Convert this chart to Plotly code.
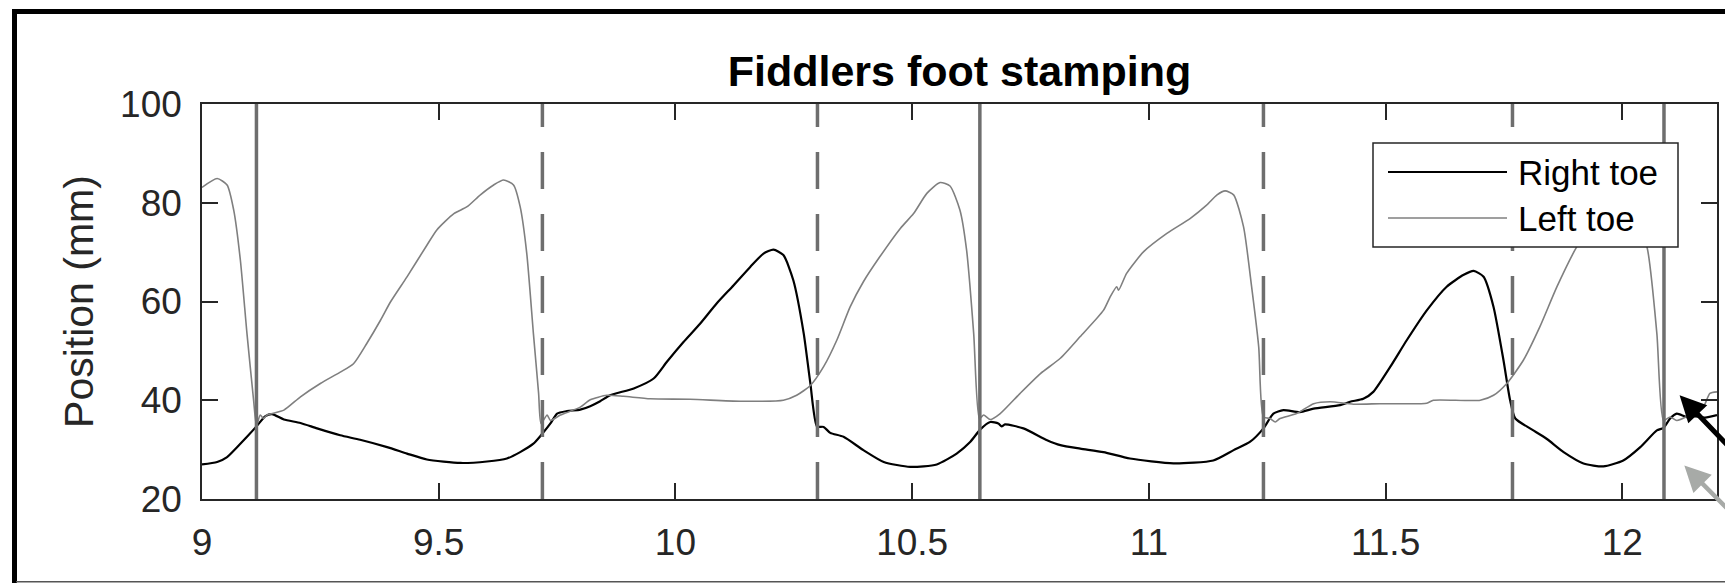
import plotly.graph_objects as go

# ---------------- data ----------------
right_x = [9.000, 9.032, 9.053, 9.074, 9.095, 9.115, 9.134, 9.148, 9.173, 9.208, 9.243, 9.292,
           9.334, 9.391, 9.433, 9.475, 9.546, 9.602, 9.644, 9.672, 9.700, 9.716, 9.736, 9.750,
           9.771, 9.799, 9.820, 9.841, 9.862, 9.912, 9.954, 9.982, 10.017, 10.052, 10.087, 10.123,
           10.158, 10.186, 10.207, 10.228, 10.249, 10.271, 10.285, 10.299, 10.313, 10.327, 10.355,
           10.397, 10.440, 10.496, 10.552, 10.594, 10.623, 10.644, 10.665, 10.682, 10.689, 10.696,
           10.735, 10.785, 10.813, 10.855, 10.904, 10.960, 11.052, 11.136, 11.179, 11.214, 11.242,
           11.263, 11.284, 11.319, 11.348, 11.404, 11.425, 11.453, 11.474, 11.510, 11.545, 11.587,
           11.629, 11.665, 11.686, 11.707, 11.728, 11.749, 11.763, 11.774, 11.805, 11.840, 11.876,
           11.918, 11.960, 12.002, 12.038, 12.073, 12.087, 12.101, 12.115, 12.136, 12.150, 12.175,
           12.200]
right_y = [27.0, 27.5, 28.5, 30.5, 32.6, 34.7, 36.8, 37.2, 36.1, 35.4, 34.3, 32.9,
           32.0, 30.5, 29.2, 28.0, 27.3, 27.6, 28.2, 29.5, 31.2, 32.9, 35.3, 37.3,
           37.8, 38.1, 38.8, 39.8, 41.0, 42.4, 44.4, 47.8, 51.8, 55.5, 59.6, 63.3,
           67.0, 69.7, 70.5, 69.4, 64.3, 53.5, 43.4, 34.7, 34.6, 33.4, 32.6,
           29.9, 27.5, 26.5, 27.0, 29.2, 31.6, 34.1, 35.6, 35.3, 34.7, 35.1,
           34.3, 31.9, 30.9, 30.2, 29.5, 28.2, 27.2, 27.8, 29.9, 31.6, 34.3,
           37.3, 38.0, 37.6, 38.3, 39.0, 39.7, 40.3, 41.7, 46.8, 52.2, 58.2,
           63.0, 65.4, 66.2, 65.0, 58.9, 48.1, 40.0, 36.3, 34.3, 32.2, 29.5,
           27.2, 26.6, 27.8, 30.5, 33.9, 34.4, 36.3, 37.3, 36.6, 36.8, 36.5,
           37.0]

left_x = [9.000, 9.032, 9.053, 9.067, 9.081, 9.095, 9.109, 9.115, 9.123, 9.130, 9.137, 9.173,
          9.208, 9.250, 9.292, 9.320, 9.348, 9.377, 9.398, 9.433, 9.475, 9.496, 9.532, 9.560,
          9.588, 9.616, 9.637, 9.658, 9.672, 9.686, 9.700, 9.711, 9.716, 9.729, 9.736, 9.757,
          9.799, 9.820, 9.855, 9.890, 9.947, 10.031, 10.137, 10.228, 10.256, 10.285, 10.313,
          10.341, 10.369, 10.397, 10.432, 10.475, 10.503, 10.531, 10.559, 10.580, 10.601, 10.615,
          10.630, 10.642, 10.651, 10.665, 10.686, 10.728, 10.771, 10.813, 10.855, 10.904, 10.918,
          10.932, 10.936, 10.953, 10.989, 11.038, 11.087, 11.122, 11.144, 11.161, 11.179, 11.200,
          11.217, 11.232, 11.242, 11.256, 11.267, 11.277, 11.312, 11.348, 11.383, 11.432, 11.488,
          11.524, 11.587, 11.601, 11.700, 11.728, 11.756, 11.791, 11.826, 11.862, 11.904, 11.950,
          11.990, 12.025, 12.052, 12.073, 12.087, 12.101, 12.115, 12.143, 12.171, 12.185, 12.200]
left_y = [83.1, 84.9, 83.6, 78.5, 68.4, 53.5, 40.0, 34.9, 37.0, 36.3, 37.0, 38.0,
          40.7, 43.4, 45.7, 47.4, 51.5, 56.2, 59.9, 65.0, 71.4, 74.5, 77.8, 79.2,
          81.6, 83.6, 84.6, 83.6, 79.2, 69.7, 53.5, 41.4, 35.3, 37.0, 35.9, 37.0,
          38.6, 40.1, 41.0, 40.8, 40.3, 40.2, 39.8, 40.0, 41.0, 43.0, 46.8,
          52.2, 58.9, 64.0, 69.1, 74.8, 77.8, 81.9, 84.1, 83.4, 78.5, 70.4,
          53.5, 36.3, 37.0, 36.1, 37.3, 41.4, 45.4, 48.5, 52.9, 58.2, 60.9,
          63.0, 62.3, 65.7, 70.1, 73.8, 76.8, 79.5, 81.6, 82.4, 81.6, 75.1,
          63.0, 50.8, 36.6, 36.3, 35.6, 36.3, 37.3, 39.3, 39.7, 39.2, 39.3,
          39.3, 39.4, 40.0, 40.0, 41.0, 43.4, 48.1, 54.9, 63.0, 71.1, 77.5,
          80.0, 77.0, 71.1, 53.5, 35.9, 36.6, 35.9, 37.0, 38.6, 41.4, 41.7]

series_names = ["Right toe", "Left toe"]
solid_events = [9.115, 10.643, 12.088]
dashed_events = [9.719, 10.300, 11.242, 11.768]
x_tickvals = [9, 9.5, 10, 10.5, 11, 11.5, 12]
x_ticktext = ["9", "9.5", "10", "10.5", "11", "11.5", "12"]
y_tickvals = [20, 40, 60, 80, 100]
arrow_black_tip = (12.121, 41.0)
arrow_gray_tip = (12.131, 26.8)

# ---------------- figure ----------------
W, H = 1733, 583
OFF = 8  # page body margin offset
# desired plot box on screen: x 202..1717, y 104..499
L, T = 202 - OFF, 104 - OFF
R = W - (1717 - OFF)
B = H - (499 - OFF)
PW, PH = W - L - R, H - T - B


def px(sx):
    return (sx - OFF - L) / PW


def py(sy):
    return (H - B - (sy - OFF)) / PH


FONT = "Liberation Sans, Helvetica, Arial, sans-serif"
AX = "#262626"
EVT = "#6e6e6e"

fig = go.Figure()
fig.add_trace(go.Scatter(x=right_x, y=right_y, mode="lines", name=series_names[0],
                         line=dict(color="#000000", width=2.2, shape="spline", smoothing=0.6),
                         showlegend=False))
fig.add_trace(go.Scatter(x=left_x, y=left_y, mode="lines", name=series_names[1],
                         line=dict(color="#7f7f7f", width=1.6, shape="spline", smoothing=0.6),
                         showlegend=False))

shapes = []
for xv in solid_events:
    shapes.append(dict(type="line", xref="x", yref="paper", x0=xv, x1=xv, y0=0, y1=1,
                       line=dict(color=EVT, width=3.5)))
for xv in dashed_events:
    shapes.append(dict(type="line", xref="x", yref="paper", x0=xv, x1=xv, y0=0, y1=1,
                       line=dict(color=EVT, width=3.5, dash="37px,25px")))

# legend box (manual)
lx0, lx1, ly0, ly1 = 1373, 1678, 143, 247
shapes.append(dict(type="rect", xref="paper", yref="paper",
                   x0=px(lx0), x1=px(lx1), y0=py(ly1), y1=py(ly0),
                   fillcolor="white", line=dict(color=AX, width=1.5)))
rows = [172, 218]
colors = ["#000000", "#7f7f7f"]
widths = [2.0, 1.6]
for r, c, w in zip(rows, colors, widths):
    shapes.append(dict(type="line", xref="paper", yref="paper",
                       x0=px(1388), x1=px(1507), y0=py(r), y1=py(r),
                       line=dict(color=c, width=w)))

# outer figure frame (cropped)
shapes.append(dict(type="line", xref="paper", yref="paper",
                   x0=px(12), x1=px(1760), y0=py(11.5), y1=py(11.5),
                   line=dict(color="#000000", width=5)))
shapes.append(dict(type="line", xref="paper", yref="paper",
                   x0=px(14.5), x1=px(14.5), y0=py(9), y1=py(600),
                   line=dict(color="#000000", width=5)))
shapes.append(dict(type="line", xref="paper", yref="paper",
                   x0=px(16), x1=px(1760), y0=py(581.7), y1=py(581.7),
                   line=dict(color="#555555", width=1.5)))

annotations = []
for r, name in zip(rows, series_names):
    annotations.append(dict(xref="paper", yref="paper", x=px(1516), y=py(r),
                            xanchor="left", yanchor="middle", text=name, showarrow=False,
                            font=dict(family=FONT, size=35, color="#000000")))

annotations.append(dict(x=arrow_black_tip[0], y=arrow_black_tip[1], xref="x", yref="y",
                        text="", showarrow=True, arrowhead=2, arrowsize=1.05,
                        arrowwidth=5, arrowcolor="#000000", ax=80, ay=64,
                        axref="pixel", ayref="pixel"))
annotations.append(dict(x=arrow_gray_tip[0], y=arrow_gray_tip[1], xref="x", yref="y",
                        text="", showarrow=True, arrowhead=2, arrowsize=1.15,
                        arrowwidth=4.5, arrowcolor="#a7aaa7", ax=80, ay=57,
                        axref="pixel", ayref="pixel"))

fig.update_layout(
    width=W, height=H,
    margin=dict(l=L, r=R, t=T, b=B, pad=0),
    paper_bgcolor="white", plot_bgcolor="white",
    showlegend=False,
    font=dict(family=FONT, color=AX),
    title=dict(text="<b>Fiddlers foot stamping</b>", x=0.5, xanchor="center",
               xref="paper", yref="container", y=1 - (71 - OFF) / H, yanchor="middle",
               font=dict(family=FONT, size=43, color="#000000")),
    xaxis=dict(range=[9, 12.2], tickvals=x_tickvals, ticktext=x_ticktext,
               showgrid=False, zeroline=False, showline=True, mirror="ticks",
               linecolor=AX, linewidth=1.5, ticks="inside", ticklen=16, tickwidth=1.5,
               tickcolor=AX, tickfont=dict(family=FONT, size=37, color=AX),
               ticklabelstandoff=10, automargin=False),
    yaxis=dict(range=[20, 100], tickvals=y_tickvals,
               showgrid=False, zeroline=False, showline=True, mirror="ticks",
               linecolor=AX, linewidth=1.5, ticks="inside", ticklen=16, tickwidth=1.5,
               tickcolor=AX, tickfont=dict(family=FONT, size=37, color=AX),
               ticklabelstandoff=11, automargin=False,
               title=dict(text="Position (mm)", standoff=14,
                          font=dict(family=FONT, size=41, color=AX))),
    shapes=shapes,
    annotations=annotations,
)

fig.write_html("out.html")
